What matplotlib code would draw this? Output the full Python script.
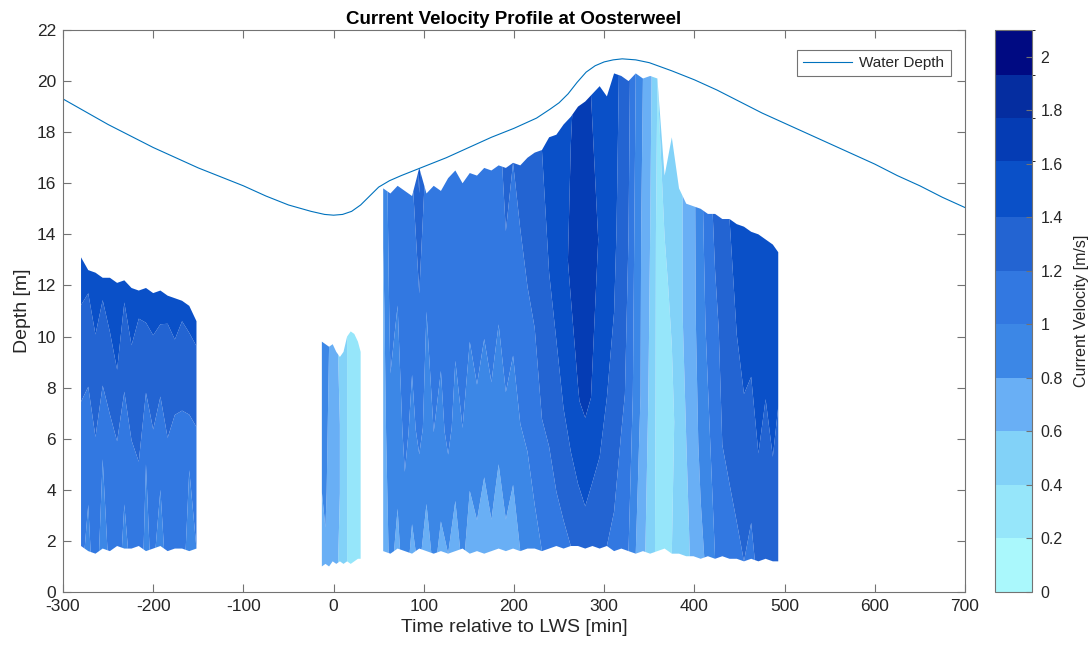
import numpy as np
import matplotlib
matplotlib.use("Agg")
import matplotlib.pyplot as plt
from matplotlib.colors import ListedColormap, BoundaryNorm
from matplotlib.cm import ScalarMappable

plt.rcParams['font.family'] = ['Liberation Sans', 'DejaVu Sans']
plt.rcParams['axes.unicode_minus'] = False

# ---------------- data ----------------
# water depth over the tidal cycle
depth_time = [-300, -275, -250, -225, -200, -175, -150, -125, -100, -75, -50, -25, -10, 0,
              10, 20, 30, 40, 50, 62, 75, 100, 125, 150, 175, 200, 225, 240, 250, 260, 270,
              280, 290, 300, 310, 320, 335, 350, 375, 400, 425, 450, 475, 500, 525, 550,
              575, 600, 625, 650, 675, 700]
water_depth = [19.3, 18.8, 18.3, 17.85, 17.4, 17.0, 16.6, 16.25, 15.9, 15.5, 15.15, 14.9,
               14.78, 14.75, 14.78, 14.9, 15.15, 15.5, 15.85, 16.1, 16.3, 16.65, 17.0, 17.4,
               17.8, 18.15, 18.55, 18.9, 19.15, 19.5, 19.95, 20.35, 20.6, 20.75, 20.83,
               20.87, 20.83, 20.72, 20.4, 20.05, 19.65, 19.2, 18.75, 18.35, 17.95, 17.55,
               17.15, 16.75, 16.3, 15.9, 15.45, 15.05]

# relative position in the measured column (0 = lowest bin, 1 = highest bin)
column_frac = [0.0, 0.33, 0.67, 1.0]

# ebb measurement
ebb_time = [-280, -272, -264, -256, -248, -240, -232, -224, -216, -208, -200, -192, -184,
            -176, -168, -160, -152]
ebb_top = [13.1, 12.6, 12.5, 12.3, 12.3, 12.1, 12.2, 11.9, 11.8, 11.9, 11.7, 11.8, 11.6,
           11.5, 11.4, 11.2, 10.6]
ebb_bottom = [1.8, 1.6, 1.5, 1.7, 1.6, 1.8, 1.7, 1.7, 1.8, 1.6, 1.7, 1.8, 1.6, 1.7, 1.7,
              1.6, 1.7]
ebb_velocity = [
    [1.05, 0.95, 1.10, 0.90, 1.05, 1.10, 0.95, 1.05, 1.10, 0.95, 1.05, 0.90, 1.10, 1.00,
     1.05, 0.95, 1.00],
    [1.10, 1.05, 1.15, 1.00, 1.10, 1.15, 1.05, 1.15, 1.20, 1.00, 1.10, 1.05, 1.15, 1.05,
     1.10, 1.00, 1.05],
    [1.30, 1.25, 1.35, 1.25, 1.30, 1.40, 1.25, 1.35, 1.30, 1.25, 1.35, 1.25, 1.30, 1.30,
     1.25, 1.30, 1.30],
    [1.50, 1.45, 1.50, 1.45, 1.55, 1.50, 1.45, 1.50, 1.45, 1.50, 1.45, 1.50, 1.45, 1.50,
     1.45, 1.45, 1.45],
]

# slack water around low water
slack_time = [-13, -9, -5, -1, 3, 7, 11, 15, 19, 23, 27, 30]
slack_top = [9.8, 9.7, 9.6, 9.7, 9.4, 9.2, 9.4, 10.0, 10.2, 10.1, 9.8, 9.4]
slack_bottom = [1.0, 1.1, 1.0, 1.2, 1.1, 1.2, 1.1, 1.2, 1.1, 1.2, 1.3, 1.3]
slack_velocity = [
    [0.70, 0.75, 0.65, 0.60, 0.65, 0.55, 0.50, 0.40, 0.35, 0.30, 0.30, 0.35],
    [0.80, 0.85, 0.70, 0.65, 0.70, 0.60, 0.50, 0.40, 0.35, 0.30, 0.30, 0.35],
    [0.85, 0.90, 0.75, 0.70, 0.65, 0.60, 0.50, 0.40, 0.30, 0.30, 0.25, 0.35],
    [0.90, 0.95, 0.80, 0.70, 0.65, 0.55, 0.50, 0.40, 0.35, 0.30, 0.30, 0.35],
]

# flood and following ebb
flood_time = [55, 63, 71, 79, 87, 95, 103, 111, 119, 127, 135, 143, 151, 159, 167, 175,
              183, 191, 199, 207, 215, 223, 231, 239, 247, 255, 263, 271, 279, 287, 295,
              303, 311, 319, 327, 335, 343, 351, 359, 367, 375, 383, 391, 399, 407, 415,
              423, 431, 439, 447, 455, 463, 471, 479, 487, 493]
flood_top = [15.8, 15.6, 15.9, 15.7, 15.5, 16.6, 15.6, 15.9, 15.7, 16.2, 16.5, 16.0, 16.4,
             16.3, 16.6, 16.5, 16.7, 16.6, 16.8, 16.7, 17.0, 17.2, 17.3, 17.8, 17.9, 18.3,
             18.6, 19.0, 19.2, 19.5, 19.8, 19.4, 20.3, 20.2, 20.0, 20.3, 20.1, 20.2, 20.1,
             16.3, 17.8, 15.8, 15.2, 15.1, 15.0, 14.8, 14.8, 14.6, 14.6, 14.4, 14.3, 14.1,
             14.0, 13.8, 13.6, 13.3]
flood_bottom = [1.6, 1.5, 1.7, 1.6, 1.5, 1.7, 1.6, 1.5, 1.6, 1.5, 1.6, 1.7, 1.5, 1.6, 1.5,
                1.6, 1.7, 1.6, 1.7, 1.6, 1.7, 1.7, 1.6, 1.7, 1.8, 1.7, 1.8, 1.8, 1.7, 1.8,
                1.7, 1.8, 1.6, 1.7, 1.6, 1.5, 1.6, 1.5, 1.6, 1.7, 1.5, 1.5, 1.4, 1.4, 1.3,
                1.4, 1.3, 1.4, 1.3, 1.3, 1.2, 1.3, 1.2, 1.3, 1.2, 1.2]
flood_velocity = [
    [0.65, 0.85, 0.75, 0.90, 0.75, 0.85, 0.70, 0.85, 0.75, 0.80,
     0.70, 0.85, 0.70, 0.75, 0.65, 0.75, 0.70, 0.75, 0.70, 0.80,
     0.85, 0.95, 1.00, 1.05, 1.10, 1.15, 1.20, 1.25, 1.30, 1.25,
     1.25, 1.20, 1.15, 1.05, 1.00, 0.80, 0.65, 0.50, 0.35, 0.30,
     0.40, 0.45, 0.55, 0.65, 0.75, 0.85, 1.00, 1.05, 1.10, 1.15,
     1.20, 1.15, 1.25, 1.20, 1.25, 1.20],
    [0.70, 0.95, 0.90, 1.05, 0.95, 1.05, 0.95, 1.00, 0.95, 1.05,
     0.95, 1.00, 0.90, 0.95, 0.90, 0.95, 0.85, 0.95, 0.90, 1.00,
     1.05, 1.10, 1.20, 1.25, 1.35, 1.40, 1.50, 1.60, 1.65, 1.60,
     1.50, 1.40, 1.35, 1.25, 1.15, 0.90, 0.75, 0.55, 0.35, 0.30,
     0.35, 0.50, 0.60, 0.70, 0.85, 0.95, 1.10, 1.20, 1.25, 1.30,
     1.35, 1.30, 1.40, 1.35, 1.40, 1.35],
    [0.75, 1.05, 1.00, 1.15, 1.05, 1.20, 1.00, 1.10, 1.05, 1.15,
     1.05, 1.10, 1.05, 1.10, 1.05, 1.10, 1.05, 1.15, 1.10, 1.15,
     1.20, 1.25, 1.30, 1.40, 1.45, 1.55, 1.65, 1.70, 1.70, 1.65,
     1.60, 1.55, 1.45, 1.30, 1.20, 0.95, 0.75, 0.60, 0.35, 0.35,
     0.45, 0.55, 0.65, 0.75, 0.90, 1.05, 1.15, 1.25, 1.35, 1.40,
     1.45, 1.45, 1.50, 1.45, 1.50, 1.45],
    [0.85, 1.10, 1.05, 1.20, 1.15, 1.45, 1.10, 1.15, 1.10, 1.20,
     1.15, 1.10, 1.15, 1.20, 1.10, 1.20, 1.15, 1.25, 1.20, 1.25,
     1.30, 1.35, 1.40, 1.45, 1.50, 1.55, 1.60, 1.65, 1.65, 1.60,
     1.55, 1.50, 1.50, 1.35, 1.25, 1.00, 0.80, 0.65, 0.40, 0.45,
     0.50, 0.55, 0.65, 0.75, 0.95, 1.10, 1.25, 1.35, 1.40, 1.45,
     1.50, 1.50, 1.55, 1.50, 1.55, 1.50],
]

# colour classes of the velocity scale
velocity_levels = [0, 0.2, 0.4, 0.6, 0.8, 1.0, 1.2, 1.4, 1.61, 1.77, 1.93, 2.1]
velocity_colors = ['#aaf8fc', '#96e6fa', '#82d2f8', '#69aff5', '#3c87e6', '#3278e1',
                   '#2364d2', '#0a50c8', '#053cb4', '#052da0', '#000a82']

# ---------------- figure ----------------
fig = plt.figure(figsize=(10.88, 6.46), dpi=100)
ax = fig.add_axes([0.0579, 0.0836, 0.829, 0.870])
cax = fig.add_axes([0.9145, 0.0836, 0.034, 0.870])

cmap = ListedColormap(velocity_colors)
norm = BoundaryNorm(velocity_levels, cmap.N)

frac = np.asarray(column_frac)[:, None]
for t, top, bot, vel in [(ebb_time, ebb_top, ebb_bottom, ebb_velocity),
                         (slack_time, slack_top, slack_bottom, slack_velocity),
                         (flood_time, flood_top, flood_bottom, flood_velocity)]:
    t = np.asarray(t, float)
    top = np.asarray(top, float)
    bot = np.asarray(bot, float)
    X = np.tile(t, (len(column_frac), 1))
    Y = bot[None, :] + frac * (top - bot)[None, :]
    ax.contourf(X, Y, np.asarray(vel), levels=velocity_levels, cmap=cmap, norm=norm,
                antialiased=True)

ax.plot(depth_time, water_depth, color='#0072bd', lw=0.8, label='Water Depth')

axis_grey = '#737373'
text_col = '#262626'
ax.set_xlim(-300, 700)
ax.set_ylim(0, 22)
ax.set_xticks(np.arange(-300, 701, 100))
ax.set_yticks(np.arange(0, 23, 2))
ax.tick_params(direction='in', top=True, right=True, length=6, width=0.8,
               color=axis_grey, labelcolor=text_col, labelsize=12.5, pad=5)
for s in ax.spines.values():
    s.set_color(axis_grey)
    s.set_linewidth(0.8)

ax.set_xlabel('Time relative to LWS [min]', fontsize=14, color=text_col, labelpad=4)
ax.set_ylabel('Depth [m]', fontsize=14, color=text_col, labelpad=4)
ax.set_title('Current Velocity Profile at Oosterweel', fontsize=13.5, fontweight='bold',
             color='black', pad=4)

leg = ax.legend(loc='upper right', bbox_to_anchor=(0.984, 0.964), borderaxespad=0,
                fontsize=11, fancybox=False, framealpha=1, edgecolor=axis_grey,
                handlelength=3.2, borderpad=0.4, handletextpad=0.5)
leg.get_frame().set_linewidth(0.8)
for txt in leg.get_texts():
    txt.set_color(text_col)

sm = ScalarMappable(norm=norm, cmap=cmap)
cb = fig.colorbar(sm, cax=cax, spacing='proportional',
                  ticks=np.arange(0, 2.01, 0.2))
cb.ax.set_yticklabels([f'{v:g}' for v in np.round(np.arange(0, 2.01, 0.2), 1)])
cb.ax.tick_params(direction='in', length=4, width=0.8, color=axis_grey,
                  labelcolor=text_col, labelsize=11.5, pad=6)
cb.outline.set_edgecolor(axis_grey)
cb.outline.set_linewidth(0.8)
cb.set_label('Current Velocity [m/s]', fontsize=11.5, color=text_col, labelpad=8)

fig.savefig('out.png', dpi=100)
